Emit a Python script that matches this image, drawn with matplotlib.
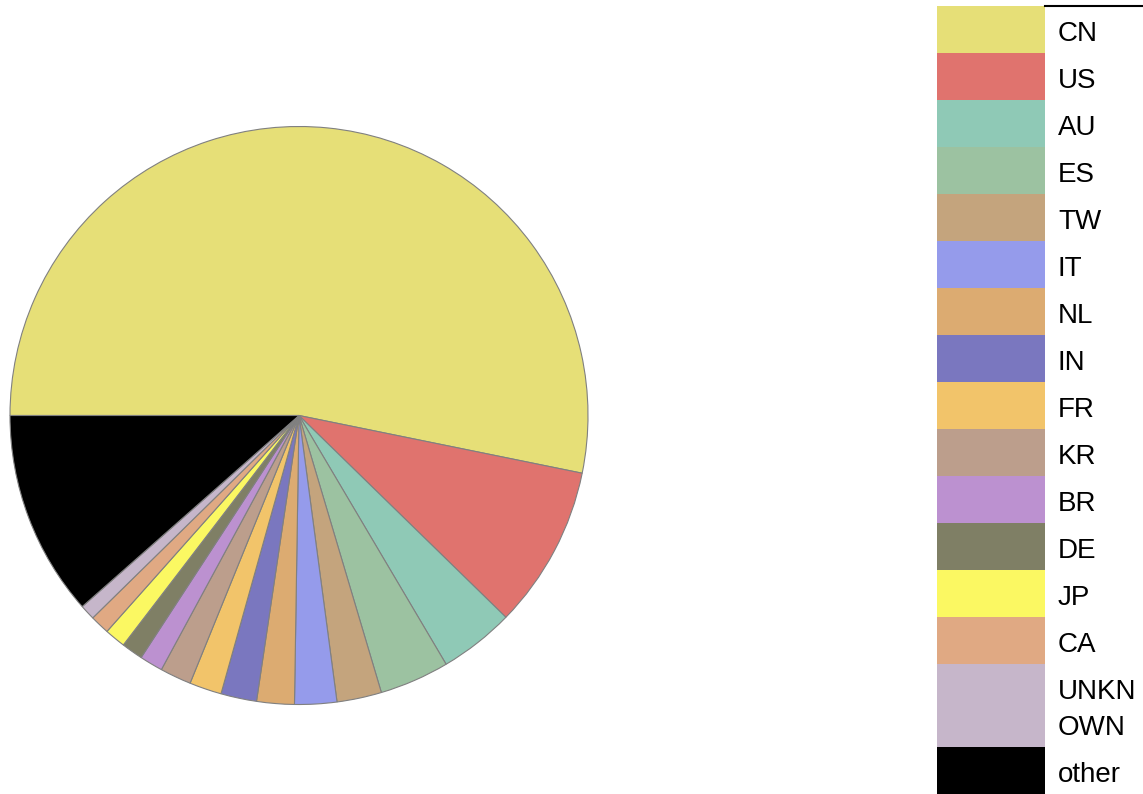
import matplotlib.pyplot as plt
from matplotlib.patches import Rectangle
from matplotlib.lines import Line2D

labels = ['CN', 'US', 'AU', 'ES', 'TW', 'IT', 'NL', 'IN', 'FR', 'KR',
          'BR', 'DE', 'JP', 'CA', 'UNKNOWN', 'other']
shares = [53.2, 9.1, 4.2, 3.9, 2.5, 2.35, 2.1, 2.0, 1.8, 1.75,
          1.3, 1.2, 1.17, 1.08, 0.85, 11.5]
colors = ['#e6df77', '#e0736e', '#8fc9b6', '#9cc2a1', '#c4a47d', '#959beb',
          '#dcab71', '#7a77bf', '#f2c46a', '#bc9e8c', '#bc91d0', '#7f7f65',
          '#fbf862', '#e0a983', '#c6b6ca', '#000000']
# how the legend text wraps in the original
legend_text = {'UNKNOWN': 'UNKN\nOWN'}

W, H = 1143, 794
plt.rcParams['font.family'] = ['Liberation Sans', 'DejaVu Sans']

fig = plt.figure(figsize=(W / 100, H / 100), dpi=100)


def fx(x):
    return x / W


def fy(y):
    return 1 - y / H


# pie: centre (299, 415.5) px, radius 289 px
cx, cy, r = 299, 415.5, 289
ax = fig.add_axes([fx(cx - r), fy(cy + r), 2 * r / W, 2 * r / H])
ax.pie(shares, colors=colors, startangle=180, counterclock=False,
       wedgeprops=dict(edgecolor='#808080', linewidth=0.8))
ax.set_xlim(-1, 1)
ax.set_ylim(-1, 1)
ax.set_aspect('equal')
ax.axis('off')

# legend drawn as a table of colour blocks and labels
row_h = 47
line_h = 36
top = 6
y = top
for lab, col in zip(labels, colors):
    lines = legend_text.get(lab, lab).split('\n')
    h = row_h + line_h * (len(lines) - 1)
    fig.patches.append(Rectangle((fx(937), fy(y + h)), 108 / W, h / H,
                                 transform=fig.transFigure, facecolor=col,
                                 edgecolor='none'))
    base = y + 35.3
    for i, ln in enumerate(lines):
        fig.text(fx(1058), fy(base + i * line_h), ln, fontsize=20,
                 va='baseline', ha='left', color='black')
    y += h

fig.lines.append(Line2D([fx(1045), 1], [fy(5.7), fy(5.7)],
                        transform=fig.transFigure, color='black', linewidth=1.5))

fig.savefig('out.png', dpi=100)
